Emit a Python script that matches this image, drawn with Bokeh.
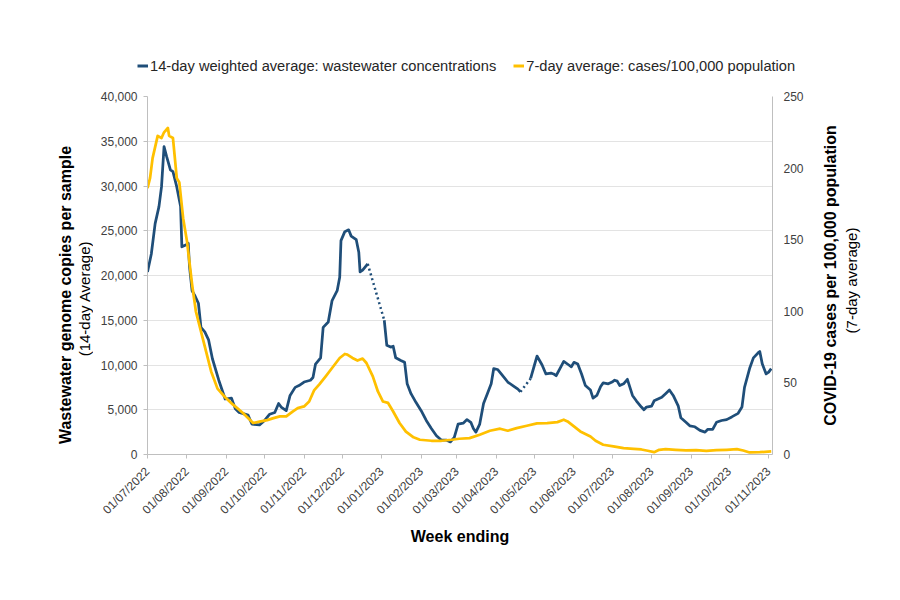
from math import pi
from datetime import datetime
import pandas as pd
from bokeh.plotting import figure
from bokeh.layouts import column, row
from bokeh.models import (Range1d, LinearAxis, FixedTicker, DatetimeTickFormatter,
                          NumeralTickFormatter, Legend, LegendItem, Label)
from bokeh.embed import file_html
from bokeh.resources import INLINE

# ---------------- data ----------------
blue_dates = [
    "2022-07-01", "2022-07-04", "2022-07-07", "2022-07-10", "2022-07-12", "2022-07-14", "2022-07-16",
    "2022-07-19", "2022-07-21", "2022-07-24", "2022-07-27", "2022-07-28", "2022-07-31", "2022-08-02",
    "2022-08-03", "2022-08-05", "2022-08-07", "2022-08-10", "2022-08-12", "2022-08-15", "2022-08-18",
    "2022-08-21", "2022-08-26", "2022-08-31", "2022-09-05", "2022-09-08", "2022-09-11", "2022-09-18",
    "2022-09-21", "2022-09-27", "2022-10-01", "2022-10-05", "2022-10-09", "2022-10-12", "2022-10-14",
    "2022-10-18", "2022-10-21", "2022-10-25", "2022-10-28", "2022-11-01", "2022-11-06", "2022-11-08",
    "2022-11-10", "2022-11-14", "2022-11-16", "2022-11-20", "2022-11-23", "2022-11-27", "2022-11-29",
    "2022-11-30", "2022-12-03", "2022-12-06", "2022-12-08", "2022-12-12", "2022-12-14", "2022-12-15",
    "2022-12-17", "2022-12-21",
    "2023-01-03", "2023-01-05", "2023-01-08", "2023-01-10", "2023-01-12", "2023-01-16", "2023-01-19",
    "2023-01-21", "2023-01-24", "2023-01-28", "2023-02-01", "2023-02-05", "2023-02-09", "2023-02-13",
    "2023-02-17", "2023-02-21", "2023-02-24", "2023-02-27", "2023-03-01", "2023-03-02", "2023-03-06",
    "2023-03-09", "2023-03-12", "2023-03-14", "2023-03-16", "2023-03-19", "2023-03-22", "2023-03-25",
    "2023-03-28", "2023-03-30", "2023-04-02", "2023-04-06", "2023-04-10", "2023-04-14", "2023-04-18",
    "2023-04-20",
    "2023-04-28", "2023-04-29", "2023-05-01", "2023-05-03", "2023-05-07", "2023-05-10", "2023-05-14",
    "2023-05-16", "2023-05-18", "2023-05-21", "2023-05-24", "2023-05-28", "2023-05-30", "2023-06-01",
    "2023-06-04", "2023-06-07", "2023-06-10", "2023-06-14", "2023-06-16", "2023-06-19", "2023-06-22",
    "2023-06-24", "2023-06-28", "2023-07-01", "2023-07-03", "2023-07-05", "2023-07-07", "2023-07-10",
    "2023-07-13", "2023-07-15", "2023-07-17", "2023-07-20", "2023-07-24", "2023-07-26", "2023-07-28",
    "2023-08-01", "2023-08-03", "2023-08-09", "2023-08-12", "2023-08-15", "2023-08-18", "2023-08-22",
    "2023-08-24", "2023-08-28", "2023-08-31", "2023-09-04", "2023-09-08", "2023-09-12", "2023-09-14",
    "2023-09-18", "2023-09-21", "2023-09-25", "2023-09-29", "2023-10-03", "2023-10-08", "2023-10-11",
    "2023-10-13", "2023-10-17", "2023-10-20", "2023-10-24", "2023-10-25", "2023-10-27", "2023-10-30",
    "2023-11-01", "2023-11-03",
]
blue_values = [
    20400, 22400, 25800, 27700, 29900, 34400, 33300,
    31800, 31600, 29900, 27700, 23200, 23400, 23600,
    21000, 18300, 17800, 16900, 14200, 13700, 12800,
    10700, 8300, 6200, 6300, 5100, 4700, 4400,
    3400, 3300, 3800, 4500, 4700, 5700, 5300,
    4900, 6600, 7500, 7700, 8100, 8300, 8600,
    10100, 10800, 14200, 14800, 17200, 18300, 19800,
    23900, 24900, 25100, 24400, 24000, 22600, 20400,
    20600, 21300,
    15000, 12200, 12000, 12100, 10800, 10500, 10300,
    7900, 6800, 5800, 4900, 3800, 2900, 2100,
    1600, 1600, 1400, 1900, 2900, 3400, 3500,
    3900, 3600, 2900, 2500, 3400, 5700, 6800,
    7900, 9600, 9500, 8800, 8100, 7700, 7300,
    7000,
    8500, 9000, 10000, 11000, 10000, 9000, 9100,
    9000, 8800, 9600, 10400, 10000, 9800, 10300,
    10100, 9000, 7700, 7200, 6300, 6600, 7600,
    8000, 7900, 8100, 8300, 8200, 7700, 7900,
    8400, 7500, 6600, 6000, 5300, 5000, 5300,
    5400, 6000, 6400, 6800, 7200, 6600, 5400,
    4100, 3600, 3200, 3100, 2700, 2500, 2800,
    2800, 3600, 3800, 3900, 4200, 4600, 5300,
    7500, 9600, 10800, 11400, 11500, 10100, 9000,
    9200, 9600,
]
# periods without wastewater data, drawn dotted
blue_gaps = [("2022-12-21", "2023-01-03"), ("2023-04-20", "2023-04-28")]

yellow_dates = [
    "2022-07-01", "2022-07-03", "2022-07-05", "2022-07-09", "2022-07-12", "2022-07-14", "2022-07-17",
    "2022-07-18", "2022-07-21", "2022-07-24", "2022-07-26", "2022-07-29", "2022-08-01", "2022-08-05",
    "2022-08-08", "2022-08-12", "2022-08-16", "2022-08-20", "2022-08-25", "2022-08-31", "2022-09-06",
    "2022-09-14", "2022-09-22", "2022-09-27", "2022-10-03", "2022-10-08", "2022-10-13", "2022-10-18",
    "2022-10-23", "2022-10-27", "2022-11-01", "2022-11-05", "2022-11-09", "2022-11-13", "2022-11-18",
    "2022-11-23", "2022-11-29", "2022-12-03", "2022-12-05", "2022-12-09", "2022-12-13", "2022-12-17",
    "2022-12-20", "2022-12-25", "2022-12-29", "2023-01-02", "2023-01-06", "2023-01-10", "2023-01-15",
    "2023-01-20", "2023-01-26", "2023-01-31", "2023-02-09", "2023-02-17", "2023-02-25", "2023-03-03",
    "2023-03-11", "2023-03-19", "2023-03-27", "2023-04-04", "2023-04-10", "2023-04-17", "2023-04-25",
    "2023-05-03", "2023-05-11", "2023-05-19", "2023-05-24", "2023-05-27", "2023-06-01", "2023-06-06",
    "2023-06-14", "2023-06-18", "2023-06-24", "2023-07-02", "2023-07-10", "2023-07-18", "2023-07-24",
    "2023-07-29", "2023-08-03", "2023-08-07", "2023-08-12", "2023-08-20", "2023-08-28", "2023-09-05",
    "2023-09-13", "2023-09-21", "2023-09-29", "2023-10-07", "2023-10-12", "2023-10-17", "2023-10-25",
    "2023-11-03",
]
yellow_values = [
    186, 193, 207, 222.5, 221, 225, 228,
    222.5, 221, 193, 190, 165, 149, 119,
    100, 86, 72, 58, 46, 40, 35,
    29, 22, 23, 24, 25.4, 26.6, 26.6,
    30, 32.4, 33.6, 37, 45, 49, 54.6,
    60.4, 67.4, 70.2, 69.8, 67.4, 65.6, 67,
    63.9, 54.6, 44, 37, 36, 30, 22,
    16, 12, 10.3, 9.6, 9.6, 10.3, 11,
    11.4, 13.8, 16.6, 18, 16.6, 18.4, 20.1,
    21.7, 21.9, 22.6, 24.3, 23.1, 19.6, 16.1,
    12.6, 9.6, 6.8, 5.6, 4.4, 4, 3.5,
    2.6, 1.6, 3.3, 3.7, 3.3, 2.8, 3.0,
    2.6, 3.0, 3.3, 3.7, 2.8, 1.4, 1.6,
    2.1,
]

month_ticks = [
    "2022-07-01", "2022-08-01", "2022-09-01", "2022-10-01", "2022-11-01", "2022-12-01",
    "2023-01-01", "2023-02-01", "2023-03-01", "2023-04-01", "2023-05-01", "2023-06-01",
    "2023-07-01", "2023-08-01", "2023-09-01", "2023-10-01", "2023-11-01",
]
left_ticks = [0, 5000, 10000, 15000, 20000, 25000, 30000, 35000, 40000]
right_ticks = [0, 50, 100, 150, 200, 250]

legend_labels = ["14-day weighted average: wastewater concentrations",
                 "7-day average: cases/100,000 population"]
left_title = "Wastewater genome copies per sample"
left_sub = "(14-day Average)"
right_title = "COVID-19 cases per 100,000 population"
right_sub = "(7-day average)"
x_title = "Week ending"

# ---------------- styling ----------------
BLUE = "#1F4E79"
YELLOW = "#FFC000"
FONT = "Liberation Sans"
GRID = "#e3e3e3"
AXIS = "#bfbfbf"
TICKTXT = "#404040"
TICKSIZE = "12px"

# page geometry (pixels)
TOP_H = 86            # legend strip height
LEFT_W = 93           # strip with the left axis titles
RIGHT_W = 72          # strip with the right axis titles
MAIN_W = 719
MAIN_H = 498
BORDER_T = 10
BORDER_B = 130
FRAME_H = MAIN_H - BORDER_T - BORDER_B      # 358
FRAME_BOTTOM = TOP_H + BORDER_T + FRAME_H    # page y of the plot frame bottom


def blank_fig(w, h, top=0, bottom=0):
    f = figure(width=w, height=h, x_range=Range1d(0, w), y_range=Range1d(0, h - top - bottom),
               output_backend="svg", toolbar_location=None,
               x_axis_location=None, y_axis_location=None,
               min_border_left=0, min_border_right=0,
               min_border_top=top, min_border_bottom=bottom)
    f.outline_line_color = None
    f.background_fill_color = "white"
    f.border_fill_color = "white"
    for g in f.grid:
        g.visible = False
    return f


# ---------------- main chart ----------------
bd = pd.to_datetime(blue_dates)
yd = pd.to_datetime(yellow_dates)
gap_pairs = [(pd.Timestamp(a), pd.Timestamp(b)) for a, b in blue_gaps]

p = figure(width=MAIN_W, height=MAIN_H, x_axis_type="datetime",
           x_range=Range1d(datetime(2022, 7, 1), datetime(2023, 11, 4)),
           y_range=Range1d(0, 40000),
           output_backend="svg", toolbar_location=None,
           min_border_left=54, min_border_right=40,
           min_border_top=BORDER_T, min_border_bottom=BORDER_B)
p.outline_line_color = None
p.background_fill_color = "white"
p.border_fill_color = "white"
p.extra_y_ranges = {"cases": Range1d(0, 250)}

segments = []
dotted = []
start = 0
for i in range(1, len(bd)):
    if (bd[i - 1], bd[i]) in gap_pairs:
        segments.append((start, i))
        dotted.append((i - 1, i))
        start = i
segments.append((start, len(bd)))

for a, b in segments:
    p.line(list(bd[a:b]), blue_values[a:b], line_color=BLUE, line_width=2.75, line_join="round")
for a, b in dotted:
    p.line([bd[a], bd[b]], [blue_values[a], blue_values[b]], line_color=BLUE,
           line_width=2.5, line_dash="2 3")

p.line(list(yd), yellow_values, line_color=YELLOW, line_width=2.75,
       line_join="round", y_range_name="cases")

p.xgrid.visible = False
p.ygrid.grid_line_color = GRID
p.ygrid.ticker = FixedTicker(ticks=left_ticks)

xa = p.xaxis[0]
xa.ticker = FixedTicker(ticks=[pd.Timestamp(t).value // 10**6 for t in month_ticks])
fmt = "%d/%m/%Y"
xa.formatter = DatetimeTickFormatter(milliseconds=fmt, seconds=fmt, minsec=fmt, minutes=fmt,
                                     hourmin=fmt, hours=fmt, days=fmt, months=fmt, years=fmt)
xa.major_label_orientation = pi / 4
xa.axis_line_color = AXIS
xa.major_tick_line_color = AXIS
xa.major_tick_out = 4
xa.major_tick_in = 0
xa.minor_tick_line_color = None
xa.major_label_text_font = FONT
xa.major_label_text_font_size = TICKSIZE
xa.major_label_text_color = TICKTXT
xa.major_label_standoff = 11
xa.axis_label = x_title
xa.axis_label_text_font = FONT
xa.axis_label_text_font_size = "16px"
xa.axis_label_text_font_style = "bold"
xa.axis_label_text_color = "black"
xa.axis_label_standoff = 3

ya = p.yaxis[0]
ya.ticker = FixedTicker(ticks=left_ticks)
ya.formatter = NumeralTickFormatter(format="0,0")
ya.axis_line_color = AXIS
ya.major_tick_line_color = AXIS
ya.major_tick_out = 4
ya.major_tick_in = 0
ya.minor_tick_line_color = None
ya.major_label_text_font = FONT
ya.major_label_text_font_size = TICKSIZE
ya.major_label_text_color = TICKTXT
ya.major_label_standoff = 6

ra = LinearAxis(y_range_name="cases", ticker=FixedTicker(ticks=right_ticks))
ra.axis_line_color = AXIS
ra.major_tick_line_color = None
ra.major_tick_out = 0
ra.major_tick_in = 0
ra.minor_tick_line_color = None
ra.major_label_text_font = FONT
ra.major_label_text_font_size = TICKSIZE
ra.major_label_text_color = TICKTXT
ra.major_label_standoff = 11
p.add_layout(ra, "right")


def title(f, x, page_y, text, bold, size):
    f.add_layout(Label(x=x, y=FRAME_BOTTOM - page_y, text=text, angle=pi / 2,
                       text_align="center", text_baseline="middle", text_font=FONT,
                       text_font_size=size, text_color="black",
                       text_font_style="bold" if bold else "normal"))


# ---------------- left titles (frame aligned with the chart frame) ----------------
lf = blank_fig(LEFT_W, MAIN_H, BORDER_T, BORDER_B)
title(lf, 65, 294.5, left_title, True, "16px")
title(lf, 83.5, 298, left_sub, False, "15px")

# ---------------- right titles ----------------
rf = blank_fig(RIGHT_W, MAIN_H, BORDER_T, BORDER_B)
title(rf, 17.7, 275, right_title, True, "16px")
title(rf, 39, 280, right_sub, False, "15px")

# ---------------- legend strip ----------------
TOTAL_W = LEFT_W + MAIN_W + RIGHT_W
tf = blank_fig(TOTAL_W, TOP_H)
# legend swatches only: their points lie outside the strip's visible range
g1 = tf.line(x=[-20, -10], y=[-20, -20], line_color=BLUE, line_width=3)
g2 = tf.line(x=[-20, -10], y=[-20, -20], line_color=YELLOW, line_width=3)
legend = Legend(items=[LegendItem(label=legend_labels[0], renderers=[g1]),
                       LegendItem(label=legend_labels[1], renderers=[g2])],
                location=(137, 12), orientation="horizontal",
                border_line_color=None, background_fill_alpha=0,
                padding=0, margin=0, spacing=17,
                glyph_width=11, glyph_height=17, label_height=17, label_standoff=2,
                label_text_font=FONT, label_text_font_size="14.67px",
                label_text_color="#262626")
tf.add_layout(legend, "center")

layout = column(tf, row(lf, p, rf, spacing=0), spacing=0)
open("out.html", "w").write(file_html(layout, INLINE))
